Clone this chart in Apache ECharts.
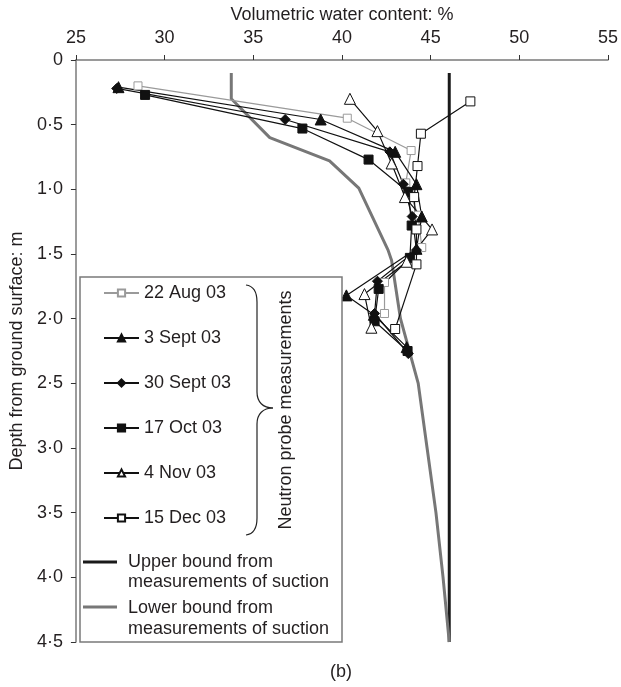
<!DOCTYPE html>
<html>
<head>
<meta charset="utf-8">
<script src="https://cdn.jsdelivr.net/npm/echarts@6/dist/echarts.min.js"></script>
<style>
  html, body { margin: 0; padding: 0; background: #fff; }
  #chart { width: 621px; height: 687px; }
</style>
</head>
<body>
<div id="chart"></div>
<script>
// [water content %, depth m]
const aug22 = [[28.5, 0.20], [40.3, 0.45], [43.9, 0.70], [43.6, 0.95], [44.3, 1.20], [44.5, 1.45], [42.4, 1.72], [42.4, 1.96]]
const sep3 = [[27.4, 0.21], [38.8, 0.46], [43.0, 0.71], [44.2, 0.96], [44.5, 1.21], [44.2, 1.46], [40.25, 1.82], [41.8, 1.97], [43.65, 2.22]]
const sep30 = [[27.3, 0.22], [36.8, 0.46], [42.7, 0.71], [43.46, 0.96], [43.96, 1.21], [44.2, 1.47], [42.0, 1.71], [41.84, 1.96], [43.74, 2.27]]
const oct17 = [[28.9, 0.27], [37.77, 0.53], [41.5, 0.77], [43.74, 1.02], [43.93, 1.28], [43.83, 1.53], [42.07, 1.77], [41.84, 2.02], [43.7, 2.25]]
const nov4 = [[40.45, 0.30], [42.0, 0.55], [42.8, 0.80], [43.55, 1.06], [45.08, 1.31], [43.65, 1.56], [41.27, 1.81], [41.66, 2.07]]
const dec15 = [[47.24, 0.32], [44.45, 0.57], [44.26, 0.82], [44.07, 1.06], [44.2, 1.31], [44.2, 1.58], [43.0, 2.08]]
const upperBound = [[46.05, 0.10], [46.05, 4.50]]
const lowerBound = [[33.76, 0.10], [33.76, 0.30], [35.93, 0.60], [39.3, 0.78], [40.95, 0.99], [42.6, 1.47], [42.8, 1.55], [43.3, 2.0], [44.3, 2.5], [44.8, 3.0], [45.3, 3.5], [45.7, 4.0], [46.05, 4.5]]

const xTicks = [25, 30, 35, 40, 45, 50, 55]
const yTicks = [0, 0.5, 1, 1.5, 2, 2.5, 3, 3.5, 4, 4.5]

const font = 'Liberation Sans, Arial, sans-serif'
const fs = 18
const textColor = '#231f20'
const axisGray = '#7a7a7a'

function probeSeries(name, data, symbol, size, fill, stroke) {
  return {
    name: name,
    type: 'line',
    data: data,
    symbol: symbol,
    symbolSize: size,
    showAllSymbol: true,
    lineStyle: { color: stroke, width: 1.2 },
    itemStyle: { color: fill, borderColor: stroke, borderWidth: 1 },
    z: 5
  }
}

function braceParts() {
  const s = { fill: 'none', stroke: '#222', lineWidth: 1.2 }
  return [
    { type: 'bezierCurve', shape: { x1: 246, y1: 285, cpx1: 254, cpy1: 286, cpx2: 257, cpy2: 292, x2: 257, y2: 302 }, style: s, z: 21 },
    { type: 'line', shape: { x1: 257, y1: 302, x2: 257, y2: 392 }, style: s, z: 21 },
    { type: 'bezierCurve', shape: { x1: 257, y1: 392, cpx1: 257, cpy1: 402, cpx2: 263, cpy2: 408, x2: 273, y2: 408 }, style: s, z: 21 },
    { type: 'bezierCurve', shape: { x1: 273, y1: 408, cpx1: 263, cpy1: 408, cpx2: 257, cpy2: 414, x2: 257, y2: 424 }, style: s, z: 21 },
    { type: 'line', shape: { x1: 257, y1: 424, x2: 257, y2: 518 }, style: s, z: 21 },
    { type: 'bezierCurve', shape: { x1: 257, y1: 518, cpx1: 257, cpy1: 528, cpx2: 254, cpy2: 534, x2: 246, y2: 535 }, style: s, z: 21 }
  ]
}

function initChart() {
  const myChart = echarts.init(document.getElementById('chart'), null, { renderer: 'canvas' })
  const option = {
    animation: false,
    backgroundColor: '#fff',
    textStyle: { fontFamily: font, color: textColor },
    grid: { left: 74, right: 9, top: 60, bottom: 45, containLabel: false },
    xAxis: {
      type: 'value',
      position: 'top',
      min: xTicks[0],
      max: xTicks[xTicks.length - 1],
      interval: 5,
      name: 'Volumetric water content: %',
      nameLocation: 'middle',
      nameGap: 34,
      nameTextStyle: { fontSize: fs, color: textColor, fontFamily: font },
      axisLine: { show: true, lineStyle: { color: axisGray, width: 1.5 } },
      axisTick: { show: true, length: 5, lineStyle: { color: '#333', width: 1 } },
      axisLabel: { fontSize: fs, color: textColor, margin: 13, fontFamily: font },
      splitLine: { show: false }
    },
    yAxis: {
      type: 'value',
      inverse: true,
      min: yTicks[0],
      max: yTicks[yTicks.length - 1],
      interval: 0.5,
      name: 'Depth from ground surface: m',
      nameLocation: 'middle',
      nameRotate: 90,
      nameGap: 49,
      nameTextStyle: { fontSize: fs, color: textColor, fontFamily: font },
      axisLine: { show: true, lineStyle: { color: axisGray, width: 1.5 } },
      axisTick: { show: true, length: 5, lineStyle: { color: '#333', width: 1 } },
      axisLabel: {
        fontSize: fs,
        color: textColor,
        margin: 13,
        fontFamily: font,
        formatter: (v) => (v === 0 ? '0' : v.toFixed(1).replace('.', '·'))
      },
      splitLine: { show: false }
    },
    legend: {
      orient: 'vertical',
      left: 98,
      top: 278,
      itemWidth: 35,
      itemHeight: 9,
      itemGap: 25,
      textStyle: { fontSize: fs, color: textColor, fontFamily: font, lineHeight: 20 },
      data: ['22 Aug 03', '3 Sept 03', '30 Sept 03', '17 Oct 03', '4 Nov 03', '15 Dec 03'],
      selectedMode: false,
      z: 20
    },
    graphic: [
      {
        type: 'rect',
        shape: { x: 80, y: 277, width: 262, height: 365 },
        style: { fill: '#fff', stroke: axisGray, lineWidth: 1.5 },
        z: 10
      },
      ...braceParts(),
      {
        type: 'text',
        x: 286,
        y: 410,
        rotation: Math.PI / 2,
        style: {
          text: 'Neutron probe measurements',
          font: fs + 'px ' + font,
          fill: textColor,
          align: 'center',
          verticalAlign: 'middle'
        },
        z: 21
      },
      {
        type: 'line',
        shape: { x1: 83, y1: 562, x2: 117, y2: 562 },
        style: { stroke: '#1a1a1a', lineWidth: 3 },
        z: 21
      },
      {
        type: 'text',
        x: 128,
        y: 551.5,
        style: {
          text: 'Upper bound from\nmeasurements of suction',
          font: fs + 'px ' + font,
          fill: textColor,
          lineHeight: 20.5
        },
        z: 21
      },
      {
        type: 'line',
        shape: { x1: 83, y1: 607, x2: 117, y2: 607 },
        style: { stroke: '#777', lineWidth: 3 },
        z: 21
      },
      {
        type: 'text',
        x: 128,
        y: 598,
        style: {
          text: 'Lower bound from\nmeasurements of suction',
          font: fs + 'px ' + font,
          fill: textColor,
          lineHeight: 20.5
        },
        z: 21
      },
      {
        type: 'text',
        x: 341,
        y: 672,
        style: {
          text: '(b)',
          font: fs + 'px ' + font,
          fill: textColor,
          align: 'center',
          verticalAlign: 'middle'
        },
        z: 21
      }
    ],
    series: [
      {
        name: 'Upper bound',
        type: 'line',
        data: upperBound,
        symbol: 'none',
        lineStyle: { color: '#1a1a1a', width: 3 },
        z: 3
      },
      {
        name: 'Lower bound',
        type: 'line',
        data: lowerBound,
        symbol: 'none',
        lineStyle: { color: '#777', width: 3 },
        z: 3
      },
      probeSeries('22 Aug 03', aug22, 'rect', 8, '#fff', '#9a9a9a'),
      probeSeries('3 Sept 03', sep3, 'triangle', 11, '#111', '#111'),
      probeSeries('30 Sept 03', sep30, 'diamond', 10, '#111', '#111'),
      probeSeries('17 Oct 03', oct17, 'rect', 9, '#111', '#111'),
      probeSeries('4 Nov 03', nov4, 'triangle', 11, '#fff', '#111'),
      probeSeries('15 Dec 03', dec15, 'rect', 9, '#fff', '#111')
    ]
  }

  // 渲染
  myChart.setOption(option, true)
}

initChart()
</script>
</body>
</html>
